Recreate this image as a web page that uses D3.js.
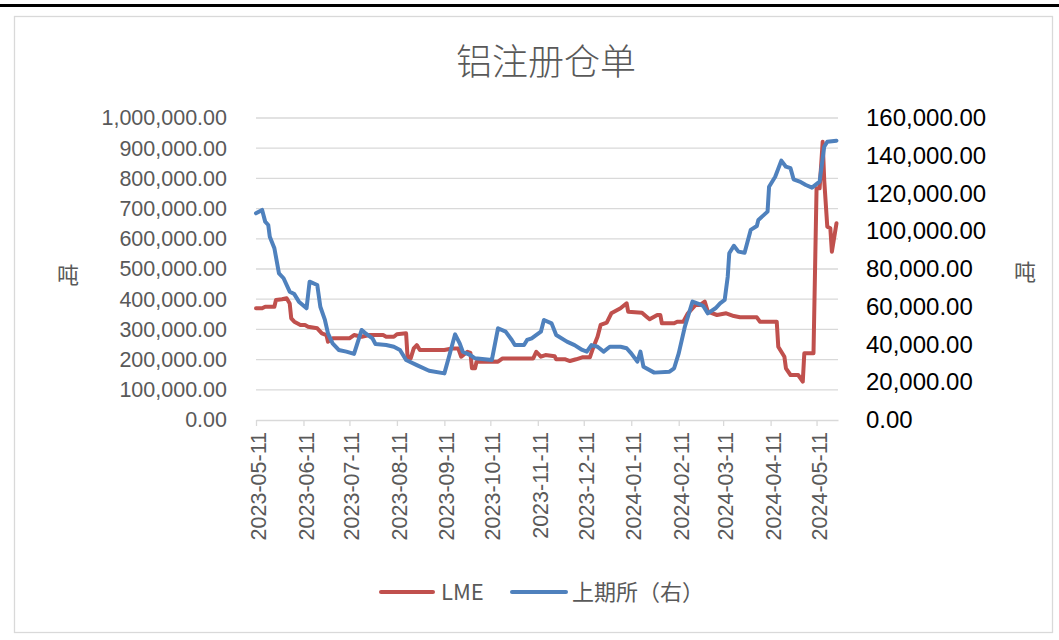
<html>
<head>
<meta charset="utf-8">
<script src="https://cdn.jsdelivr.net/npm/d3@7"></script>
<style>
    body { margin: 0; background: #fff; }
    .num { font-family: "Liberation Sans", Arial, sans-serif; }
    .cjk { font-family: "Noto Sans CJK SC", sans-serif; }
</style>
</head>
<body>
<svg id="chart" width="1059" height="640" xmlns="http://www.w3.org/2000/svg"></svg>
<script>
// LME (left axis), tonnes
let lmeDates = ["2023-05-11","2023-05-15","2023-05-17","2023-05-23","2023-05-24","2023-05-28","2023-05-31","2023-06-02","2023-06-03","2023-06-05",
    "2023-06-09","2023-06-12","2023-06-14","2023-06-20","2023-06-23","2023-06-26","2023-06-27","2023-06-30","2023-07-11","2023-07-14",
    "2023-07-19","2023-07-24","2023-08-02","2023-08-04","2023-08-09","2023-08-11","2023-08-17","2023-08-18","2023-08-20","2023-08-22",
    "2023-08-24","2023-08-26","2023-09-11","2023-09-16","2023-09-20","2023-09-22","2023-09-26","2023-09-28","2023-09-29","2023-10-01",
    "2023-10-02","2023-10-16","2023-10-19","2023-11-08","2023-11-10","2023-11-13","2023-11-16","2023-11-22","2023-11-23","2023-11-29",
    "2023-12-02","2023-12-06","2023-12-10","2023-12-15","2023-12-17","2023-12-20","2023-12-22","2023-12-26","2023-12-29","2024-01-04",
    "2024-01-08","2024-01-09","2024-01-18","2024-01-21","2024-01-23","2024-01-28","2024-01-30","2024-01-31","2024-02-08","2024-02-10",
    "2024-02-14","2024-02-17","2024-02-22","2024-02-25","2024-02-28","2024-03-01","2024-03-07","2024-03-13","2024-03-18","2024-03-22",
    "2024-04-02","2024-04-04","2024-04-15","2024-04-16","2024-04-20","2024-04-21","2024-04-24","2024-04-29","2024-05-02","2024-05-03",
    "2024-05-09","2024-05-11","2024-05-13","2024-05-15","2024-05-16","2024-05-18","2024-05-20","2024-05-21","2024-05-24"]
let lmeValues = [369800, 369800, 375000, 375000, 397000, 399600, 403000, 386000, 336700, 325500,
    314600, 314600, 309000, 303600, 287000, 281400, 259300, 270500, 270500, 281400,
    275800, 281400, 281400, 275800, 275800, 284000, 287000, 204000, 204000, 237000,
    248000, 231700, 231700, 237000, 237000, 209600, 226000, 222000, 171000, 171000,
    193000, 193000, 204000, 204000, 226000, 209600, 215000, 211000, 201000, 201000,
    195300, 201000, 207600, 207600, 237400, 275800, 314600, 322200, 353300, 369800,
    386400, 358600, 355300, 342000, 333400, 347700, 347700, 320200, 320200, 325500,
    325500, 353300, 380800, 380800, 391700, 358600, 347700, 353300, 344300, 340000,
    340000, 325500, 325500, 242700, 209600, 171000, 149000, 149000, 126800, 220800,
    220800, 767000, 767000, 921500, 794600, 640000, 634700, 557200, 651300]

// 上期所 (right axis), tonnes
let shfeDates = ["2023-05-11","2023-05-15","2023-05-17","2023-05-19","2023-05-20","2023-05-23","2023-05-26","2023-05-29","2023-06-02","2023-06-05",
    "2023-06-08","2023-06-13","2023-06-15","2023-06-20","2023-06-22","2023-06-25","2023-06-27","2023-06-30","2023-07-04","2023-07-09",
    "2023-07-14","2023-07-19","2023-07-22","2023-07-26","2023-07-28","2023-08-04","2023-08-09","2023-08-13","2023-08-17","2023-08-24",
    "2023-09-01","2023-09-11","2023-09-14","2023-09-18","2023-09-21","2023-09-23","2023-09-28","2023-10-01","2023-10-12","2023-10-16",
    "2023-10-21","2023-10-25","2023-10-27","2023-11-02","2023-11-04","2023-11-07","2023-11-13","2023-11-15","2023-11-20","2023-11-23",
    "2023-11-30","2023-12-05","2023-12-10","2023-12-13","2023-12-16","2023-12-20","2023-12-24","2023-12-28","2024-01-04","2024-01-08",
    "2024-01-11","2024-01-15","2024-01-17","2024-01-19","2024-01-26","2024-02-05","2024-02-08","2024-02-11","2024-02-15","2024-02-20",
    "2024-02-24","2024-02-27","2024-03-01","2024-03-06","2024-03-09","2024-03-12","2024-03-14","2024-03-15","2024-03-18","2024-03-21",
    "2024-03-25","2024-03-29","2024-04-02","2024-04-03","2024-04-09","2024-04-10","2024-04-14","2024-04-18","2024-04-21","2024-04-24",
    "2024-04-26","2024-04-30","2024-05-04","2024-05-08","2024-05-13","2024-05-16","2024-05-18","2024-05-24"]
let shfeValues = [109500, 111300, 105100, 103300, 97100, 91000, 77700, 75100, 68000, 66700,
    62700, 59200, 73300, 71500, 60000, 53000, 45900, 40600, 37100, 36200,
    35000, 47700, 45600, 43300, 40300, 39700, 38800, 37100, 31800, 29100,
    26100, 24700, 33500, 45400, 40600, 36200, 34400, 32700, 31800, 48600,
    46800, 42400, 39700, 39700, 42400, 43300, 46800, 53000, 51200, 45000,
    41500, 39700, 37100, 36200, 39700, 38800, 36200, 38800, 38800, 38000,
    35300, 30900, 36200, 28200, 25100, 25600, 27400, 35300, 49400, 62700,
    61500, 60400, 56500, 59200, 61800, 63600, 75900, 88300, 92300, 89200,
    88600, 100700, 102800, 106000, 110400, 123600, 128900, 137400, 134200, 133400,
    127500, 126300, 124500, 123100, 126300, 144800, 147400, 148000]

let leftTicks = [0, 100000, 200000, 300000, 400000, 500000, 600000, 700000, 800000, 900000, 1000000]
let rightTicks = [0, 20000, 40000, 60000, 80000, 100000, 120000, 140000, 160000]
let monthTicks = ["2023-05-11","2023-06-11","2023-07-11","2023-08-11","2023-09-11","2023-10-11","2023-11-11",
    "2023-12-11","2024-01-11","2024-02-11","2024-03-11","2024-04-11","2024-05-11"]
let seriesNames = ["LME", "上期所（右）"]

let parse = d3.timeParse("%Y-%m-%d")
let svg = d3.select("#chart")

// frame
svg.append("rect").attr("x", 0).attr("y", 4).attr("width", 1059).attr("height", 3).attr("fill", "#000")
svg.append("rect").attr("x", 14.5).attr("y", 16.5).attr("width", 1038).attr("height", 616)
    .attr("fill", "none").attr("stroke", "#D9D9D9").attr("stroke-width", 1.3)

let plotLeft = 256, plotRight = 838, plotTop = 118, plotBottom = 420

let xScale = d3.scaleTime()
    .domain([parse("2023-05-11"), parse("2024-05-25")])
    .range([plotLeft, plotRight])
let yLeft = d3.scaleLinear().domain([0, 1000000]).range([plotBottom, plotTop])
let yRight = d3.scaleLinear().domain([0, 160000]).range([plotBottom, plotTop])

// gridlines
svg.append("g").selectAll("line")
    .data(leftTicks.slice(1))
    .join("line")
    .attr("x1", plotLeft).attr("x2", plotRight)
    .attr("y1", d => yLeft(d)).attr("y2", d => yLeft(d))
    .attr("stroke", "#D9D9D9").attr("stroke-width", 1.3)

// left axis
let yAxisL = svg.append("g")
    .attr("transform", `translate(${plotLeft},0)`)
    .call(d3.axisLeft(yLeft).tickValues(leftTicks).tickFormat(d3.format(",.2f")).tickSize(0).tickPadding(29))
yAxisL.select(".domain").remove()
yAxisL.selectAll("text").attr("class", "num").attr("font-size", 21.5).attr("fill", "#595959")

// right axis
let yAxisR = svg.append("g")
    .attr("transform", `translate(${plotRight},0)`)
    .call(d3.axisRight(yRight).tickValues(rightTicks).tickFormat(d3.format(",.2f")).tickSize(0).tickPadding(28))
yAxisR.select(".domain").remove()
yAxisR.selectAll("text").attr("class", "num").attr("font-size", 24).attr("fill", "#000")

// x axis
let xAxis = svg.append("g")
    .attr("transform", `translate(0,${plotBottom})`)
    .call(d3.axisBottom(xScale).tickValues(monthTicks.map(parse))
        .tickFormat(d3.timeFormat("%Y-%m-%d")).tickSize(6).tickSizeOuter(0))
xAxis.select(".domain").attr("stroke", "#D9D9D9").attr("stroke-width", 1.3)
xAxis.selectAll(".tick line").attr("stroke", "#D9D9D9").attr("stroke-width", 1.3)
xAxis.selectAll("text")
    .attr("class", "num")
    .attr("font-size", 21.5)
    .attr("fill", "#595959")
    .attr("transform", "rotate(-90)")
    .attr("text-anchor", "end")
    .attr("x", -12).attr("y", 2).attr("dy", "0.35em")

// lines
let lmeData = lmeDates.map((d, i) => ({ date: parse(d), value: lmeValues[i] }))
let shfeData = shfeDates.map((d, i) => ({ date: parse(d), value: shfeValues[i] }))

svg.append("path")
    .datum(lmeData)
    .attr("fill", "none").attr("stroke", "#C0504D").attr("stroke-width", 4)
    .attr("stroke-linejoin", "round").attr("stroke-linecap", "round")
    .attr("d", d3.line().x(d => xScale(d.date)).y(d => yLeft(d.value)))

svg.append("path")
    .datum(shfeData)
    .attr("fill", "none").attr("stroke", "#4F81BD").attr("stroke-width", 4)
    .attr("stroke-linejoin", "round").attr("stroke-linecap", "round")
    .attr("d", d3.line().x(d => xScale(d.date)).y(d => yRight(d.value)))

// title and axis titles
svg.append("text").attr("class", "cjk")
    .attr("x", 546).attr("y", 75).attr("text-anchor", "middle")
    .attr("font-size", 36).attr("font-weight", 300).attr("fill", "#595959")
    .text("铝注册仓单")
svg.append("text").attr("class", "cjk")
    .attr("x", 68).attr("y", 283).attr("text-anchor", "middle")
    .attr("font-size", 22).attr("fill", "#595959").text("吨")
svg.append("text").attr("class", "cjk")
    .attr("x", 1025).attr("y", 280).attr("text-anchor", "middle")
    .attr("font-size", 22).attr("fill", "#595959").text("吨")

// legend
let legend = [
    { name: seriesNames[0], color: "#C0504D", x1: 381, x2: 433, tx: 441 },
    { name: seriesNames[1], color: "#4F81BD", x1: 512, x2: 566, tx: 572 }
]
let lg = svg.append("g")
lg.selectAll("line").data(legend).join("line")
    .attr("x1", d => d.x1).attr("x2", d => d.x2).attr("y1", 592).attr("y2", 592)
    .attr("stroke", d => d.color).attr("stroke-width", 4).attr("stroke-linecap", "round")
lg.selectAll("text").data(legend).join("text")
    .attr("class", "cjk")
    .attr("x", d => d.tx).attr("y", 600)
    .attr("font-size", 22).attr("fill", "#595959")
    .text(d => d.name)
</script>
</body>
</html>
